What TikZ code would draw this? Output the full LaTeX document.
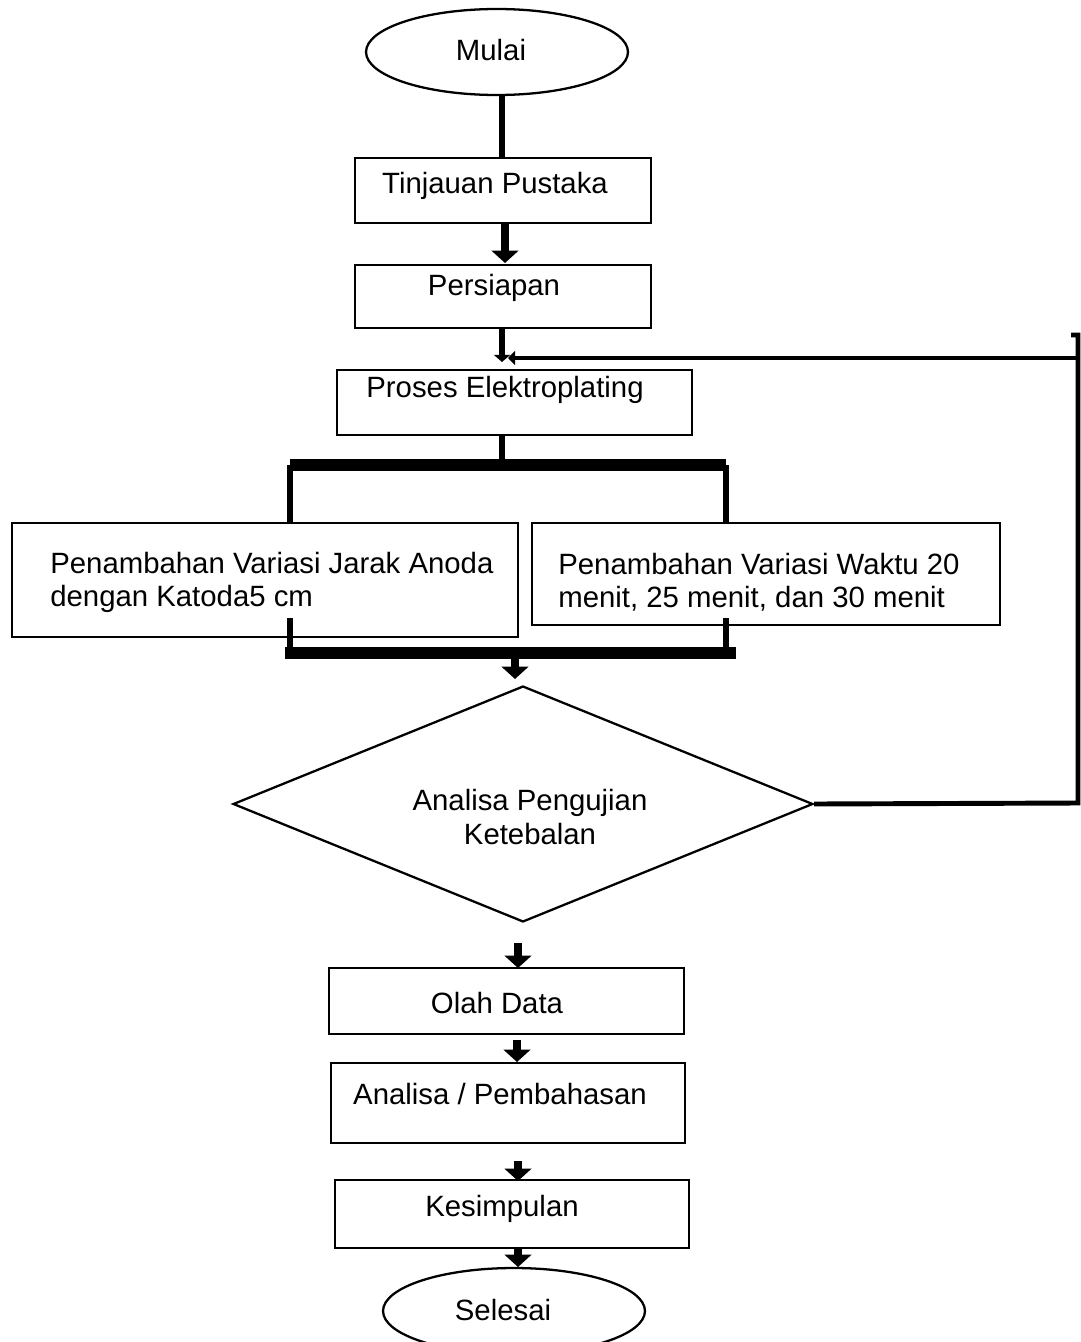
\documentclass[tikz,border=0pt]{standalone}
\usepackage{fontspec}
\setmainfont{Liberation Sans}
\usetikzlibrary{shapes.geometric,arrows.meta}
\begin{document}
\begin{tikzpicture}[x=0.02cm,y=-0.02cm,
  every node/.style={font=\fontsize{16.7pt}{18.8pt}\selectfont},
  box/.style={draw,line width=1.3pt,inner sep=0pt},
  term/.style={draw,ellipse,line width=1.3pt,inner sep=0pt,minimum width=5.24cm,minimum height=1.72cm},
  txt/.style={inner sep=0pt},
  thickline/.style={line width=3.6pt},
  bar/.style={line width=6.5pt},
  blockarrow/.style={line width=4pt,-{Triangle[width=15pt,length=7pt]}},
  fb/.style={line width=2.8pt}]
\useasboundingbox (0,0) rectangle (1081,1342);

% terminals
\node[term] (mulai) at (497,52) {};
\node[txt] (tmulai) at (491,50) {Mulai};
\node[term] (selesai) at (514,1311) {};
\node[txt] (tselesai) at (503,1310) {Selesai};

% boxes
\node[box,minimum width=5.92cm,minimum height=1.30cm] (tinj) at (503,190.5) {};
\node[txt] (ttinj) at (495,186) {Tinjauan Pustaka};
\node[box,minimum width=5.92cm,minimum height=1.26cm] (pers) at (503,296.5) {};
\node[txt] (tpers) at (494,288) {Persiapan};
\node[box,minimum width=7.10cm,minimum height=1.30cm] (proses) at (514.5,402.5) {};
\node[txt] (tproses) at (505,390) {Proses Elektroplating};
\node[box,minimum width=10.12cm,minimum height=2.28cm] (left) at (265,580) {};
\node[txt,anchor=west,align=left] (tleft) at (50,582) {Penambahan Variasi Jarak Anoda\\dengan Katoda5 cm};
\node[box,minimum width=9.36cm,minimum height=2.04cm] (right) at (766,574) {};
\node[txt,anchor=west,align=left] (tright) at (558,582) {Penambahan Variasi Waktu 20\\menit, 25 menit, dan 30 menit};
\node[draw,diamond,line width=1.3pt,inner sep=0pt,minimum width=11.6cm,minimum height=4.72cm] (dia) at (523,804) {};
\node[txt,align=center] (tdia) at (530,817) {Analisa Pengujian\\Ketebalan};
\node[box,minimum width=7.10cm,minimum height=1.32cm] (olah) at (506.5,1001) {};
\node[txt] (tolah) at (497,1003) {Olah Data};
\node[box,minimum width=7.08cm,minimum height=1.60cm] (anal) at (508,1103) {};
\node[txt] (tanal) at (500,1094) {Analisa / Pembahasan};
\node[box,minimum width=7.08cm,minimum height=1.36cm] (kes) at (512,1214) {};
\node[txt] (tkes) at (502,1209) {Kesimpulan};

% coordinates for bars
\coordinate (b1l) at (290,465);
\coordinate (b1r) at (726,465);
\coordinate (b1m) at (502,465);
\coordinate (b2l) at (285,653);
\coordinate (b2r) at (736,653);
\coordinate (b2a) at (290,653);
\coordinate (b2b) at (726,653);
\coordinate (b2m) at (515,653);
\coordinate (d1) at (518,943);
\coordinate (d2) at (517,1040);
\coordinate (d3) at (518,1161);
\coordinate (d4) at (518,1247);
\coordinate (fbtop) at (1078,335);
\coordinate (fbhook) at (1071,335);
\coordinate (fbjoin) at (1078,358);
\coordinate (fbbot) at (1078,803);

% connectors
\draw[thickline] (502,95) -- (502,158);
\draw[blockarrow] (505,223) -- (505,263);
\draw[thickline,-{Triangle[width=9pt,length=4pt]}] (502,328) -- (502,362);
\draw[thickline] (502,435) -- (b1m);
\draw[bar] (b1l) -- (b1r);
\draw[thickline] (b1l) -- (290,523);
\draw[thickline] (b1r) -- (726,523);
\draw[thickline] (290,618) -- (b2a);
\draw[thickline] (726,618) -- (b2b);
\draw[bar] (b2l) -- (b2r);
\draw[blockarrow] (b2m) -- (515,679);
\draw[blockarrow] (d1) -- (518,968);
\draw[blockarrow] (d2) -- (517,1062);
\draw[blockarrow] (d3) -- (518,1181);
\draw[blockarrow] (d4) -- (518,1267);

% feedback loop
\draw[fb] (dia.east) -- (fbbot) -- (fbtop) -- (fbhook);
\draw[fb,-{Triangle[width=8pt,length=4pt]}] (fbjoin) -- (508,358);
\end{tikzpicture}
\end{document}
